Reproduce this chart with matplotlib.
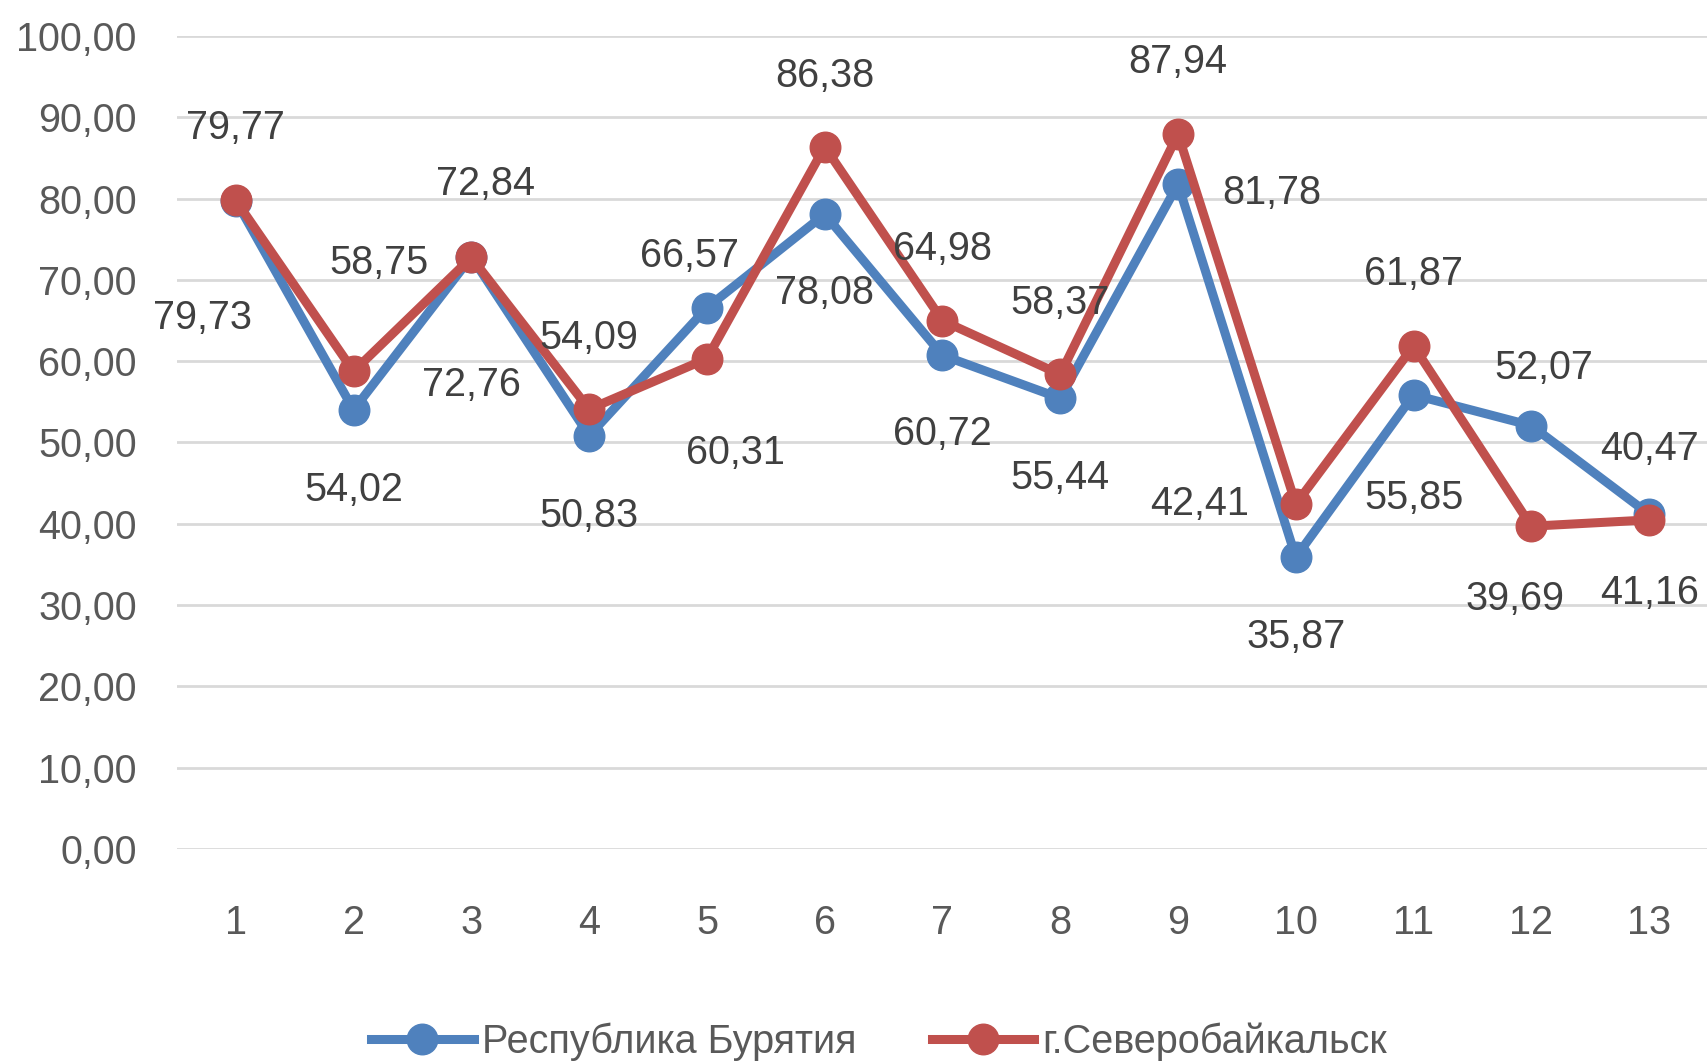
import matplotlib
matplotlib.use("Agg")
import matplotlib.pyplot as plt

plt.rcParams['font.family'] = ['Liberation Sans', 'DejaVu Sans']

categories = list(range(1, 14))
buryatia = [79.73, 54.02, 72.84, 50.83, 66.57, 78.08, 60.72, 55.44, 81.78, 35.87, 55.85, 52.07, 41.16]
severobaikalsk = [79.77, 58.75, 72.76, 54.09, 60.31, 86.38, 64.98, 58.37, 87.94, 42.41, 61.87, 39.69, 40.47]
series_names = ['Республика Бурятия', 'г.Северобайкальск']
yticks = [0, 10, 20, 30, 40, 50, 60, 70, 80, 90, 100]

# label offsets in pixels (dx, dy), picked by eye
blue_off = [(-33, -117), (0, -80), (14, 73), (0, -80), (-17, 52), (0, -79), (0, -79), (0, -80),
            (94, -9), (0, -80), (0, -103), (12, 58), (0, -79)]
red_off = [(0, 72), (25, 108), (0, -128), (0, 71), (29, -94), (0, 71), (0, 72), (0, 71),
           (0, 72), (-96, 0), (0, 72), (-16, -73), (0, 71)]

blue = '#4F81BD'
red = '#C0504D'
txt = '#404040'
fs = 28.5

fig = plt.figure(figsize=(17.08, 10.61), dpi=100)
ax = fig.add_axes([0.1036, 0.2, 0.8964, 0.766])

ax.plot(categories, buryatia, color=blue, lw=6.5, marker='o', ms=22, label=series_names[0], zorder=3)
ax.plot(categories, severobaikalsk, color=red, lw=6.5, marker='o', ms=22, label=series_names[1], zorder=4)

def fmt(v):
    return f'{v:.2f}'.replace('.', ',')

for x, v, off in zip(categories, buryatia, blue_off):
    ax.annotate(fmt(v), (x, v), xytext=off, textcoords='offset pixels',
                ha='center', va='center', fontsize=fs, color=txt, zorder=5)
for x, v, off in zip(categories, severobaikalsk, red_off):
    ax.annotate(fmt(v), (x, v), xytext=off, textcoords='offset pixels',
                ha='center', va='center', fontsize=fs, color=txt, zorder=5)

ax.set_xlim(0.5, 13.5)
ax.set_ylim(0, 100)
ax.set_yticks(yticks)
ax.set_yticklabels([fmt(t) for t in yticks])
ax.set_xticks(categories)
ax.grid(axis='y', color='#D9D9D9', lw=2)
ax.set_axisbelow(True)
for s in ax.spines.values():
    s.set_visible(False)
ax.tick_params(axis='y', length=0, pad=29, labelsize=fs, labelcolor='#595959')
ax.tick_params(axis='x', length=0, pad=40, labelsize=fs, labelcolor='#595959')

fig.legend(loc='center', bbox_to_anchor=(879 / 1708, 1 - 1042 / 1061), ncol=2, frameon=False,
           fontsize=fs, labelcolor='#595959', handlelength=2.6, handletextpad=0.2,
           columnspacing=1.9, borderaxespad=0)

fig.savefig('out.png', dpi=100)
